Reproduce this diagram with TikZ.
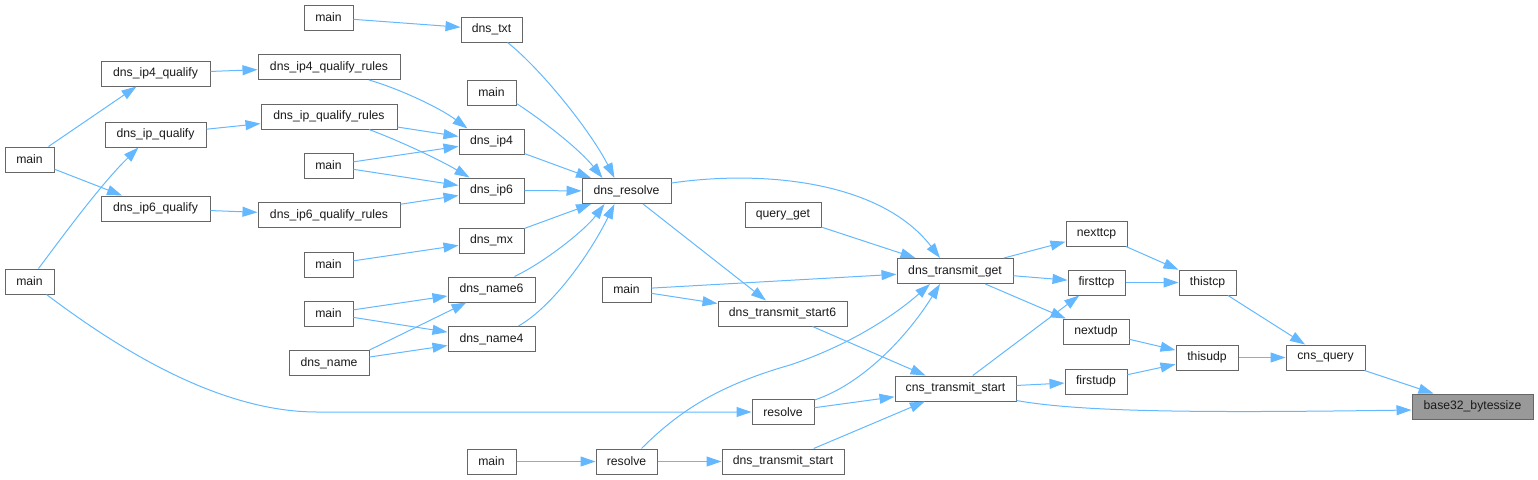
\documentclass[tikz,border=0pt]{standalone}
\usepackage{fontspec}
\setmainfont{Liberation Sans}
\usetikzlibrary{arrows.meta,calc}
\definecolor{edgeblue}{HTML}{63B8FF}
\definecolor{boxborder}{HTML}{666666}
\definecolor{boxgrey}{HTML}{999999}
\definecolor{txtcol}{HTML}{1A1A1A}
\tikzset{
  box/.style={draw=boxborder, fill=white, line width=1pt, minimum height=25pt, inner sep=0pt,
    font=\fontsize{12.2}{14}\selectfont, text=txtcol},
  rootbox/.style={box, fill=boxgrey},
  conn/.style={draw=edgeblue, line width=1pt, -{Triangle[length=15pt,width=10pt]}}
}
\begin{document}
\begin{tikzpicture}[x=1pt,y=-1pt]
\useasboundingbox (0,0) rectangle (1538,479);
% nodes
\node[box, minimum width=49pt] (mA) at (328.5,17.5) {main};
\node[box, minimum width=61pt] (txt) at (491.5,29.5) {dns\_txt};
\node[box, minimum width=109pt] (ip4q) at (155.5,73.5) {dns\_ip4\_qualify};
\node[box, minimum width=142pt] (ip4qr) at (329,67) {dns\_ip4\_qualify\_rules};
\node[box, minimum width=49pt] (mB) at (491.5,92.5) {main};
\node[box, minimum width=101pt] (ipq) at (155.5,134.5) {dns\_ip\_qualify};
\node[box, minimum width=136pt] (ipqr) at (329,116.5) {dns\_ip\_qualify\_rules};
\node[box, minimum width=49pt] (m1) at (29.5,159.5) {main};
\node[box, minimum width=65pt] (ip4) at (491.5,141.5) {dns\_ip4};
\node[box, minimum width=49pt] (mC) at (328.5,165.5) {main};
\node[box, minimum width=65pt] (ip6) at (491.5,190.5) {dns\_ip6};
\node[box, minimum width=109pt] (ip6q) at (155.5,208.5) {dns\_ip6\_qualify};
\node[box, minimum width=142pt] (ip6qr) at (329,215) {dns\_ip6\_qualify\_rules};
\node[box, minimum width=89pt] (dres) at (626.5,191) {dns\_resolve};
\node[box, minimum width=65pt] (mx) at (491.5,240.5) {dns\_mx};
\node[box, minimum width=49pt] (m2) at (29.5,281.5) {main};
\node[box, minimum width=49pt] (mD) at (328.5,264.5) {main};
\node[box, minimum width=87pt] (name6) at (491.5,289.5) {dns\_name6};
\node[box, minimum width=49pt] (mE) at (328.5,313.5) {main};
\node[box, minimum width=87pt] (name4) at (491.5,339) {dns\_name4};
\node[box, minimum width=80pt] (dname) at (329,363) {dns\_name};
\node[box, minimum width=49pt] (mG) at (491.5,461.5) {main};
\node[box, minimum width=76pt] (qget) at (783,214.5) {query\_get};
\node[box, minimum width=116pt] (tget) at (955,271) {dns\_transmit\_get};
\node[box, minimum width=49pt] (mF) at (626.5,289.5) {main};
\node[box, minimum width=129pt] (tstart6) at (782.5,313.5) {dns\_transmit\_start6};
\node[box, minimum width=121pt] (cstart) at (955.5,388.5) {cns\_transmit\_start};
\node[box, minimum width=62pt] (resU) at (783,412) {resolve};
\node[box, minimum width=61pt] (resL) at (626.5,461.5) {resolve};
\node[box, minimum width=122pt] (tstart) at (783,461.5) {dns\_transmit\_start};
\node[box, minimum width=61pt] (nexttcp) at (1096.5,233.5) {nexttcp};
\node[box, minimum width=57pt] (firsttcp) at (1096.5,282.5) {firsttcp};
\node[box, minimum width=57pt] (thistcp) at (1207.5,282.5) {thistcp};
\node[box, minimum width=66pt] (nextudp) at (1096,331.5) {nextudp};
\node[box, minimum width=62pt] (thisudp) at (1207,357.5) {thisudp};
\node[box, minimum width=79pt] (cquery) at (1325.5,357.5) {cns\_query};
\node[box, minimum width=62pt] (firstudp) at (1096,381.5) {firstudp};
\node[rootbox, minimum width=121pt] (base32) at (1472.5,406.5) {base32\_bytessize};
% connectors
\draw[conn] (mA) -- (txt);
\draw[conn] ($(txt.south)+(16,0)$) .. controls (540,68) and (590,130) .. ($(dres.north)+(-12,0)$);
\draw[conn] ($(mB.south east)+(0,-2)$) .. controls (545,122) and (580,150) .. ($(dres.north)+(-24,0)$);
\draw[conn] (ip4) -- (dres);
\draw[conn] (ip6) -- (dres);
\draw[conn] (mx) -- (dres);
\draw[conn] ($(name6.north)+(23,0)$) .. controls (545,262) and (585,230) .. ($(dres.south)+(-22,0)$);
\draw[conn] ($(name4.north east)+(-17,0)$) .. controls (555,305) and (592,250) .. ($(dres.south)+(-12,0)$);
\draw[conn] (m1) -- (ip4q);
\draw[conn] (m1) -- (ip6q);
\draw[conn] ($(m2.north)+(9,0)$) .. controls (60,240) and (100,185) .. ($(ipq.south)+(-17,0)$);
\coordinate (bend) at (317,412);
\draw[conn] ($(m2.south)+(17,0)$) .. controls (120,350) and (220,412) .. (bend) -- (resU.west);
\draw[conn] (ip4q) -- (ip4qr);
\draw[conn] (ipq) -- (ipqr);
\draw[conn] (ip6q) -- (ip6qr);
\draw[conn] ($(ip4qr.south)+(40,0)$) .. controls (400,89) and (440,108) .. ($(ip4.north west)+(9,0)$);
\draw[conn] (ipqr) -- (ip4);
\draw[conn] ($(ipqr.south)+(40,0)$) .. controls (400,141) and (440,160) .. ($(ip6.north west)+(11,0)$);
\draw[conn] (mC) -- (ip4);
\draw[conn] (mC) -- (ip6);
\draw[conn] (ip6qr) -- (ip6);
\draw[conn] (mD) -- (mx);
\draw[conn] (mE) -- (name6);
\draw[conn] (mE) -- (name4);
\draw[conn] (dname.north east) -- ($(name6.south west)+(19,0)$);
\draw[conn] (dname) -- (name4);
\draw[conn] ($(dres.east)+(0,-8)$) .. controls (760,170) and (880,180) .. ($(tget.north)+(-15,0)$);
\draw[conn] (dres) -- (tstart6);
\draw[conn] (qget) -- (tget);
\draw[conn] (mF) -- (tget);
\draw[conn] (mF) -- (tstart6);
\draw[conn] (tstart6) -- (cstart);
\draw[conn] ($(resU.north east)+(0,1)$) .. controls (860,385) and (905,340) .. ($(tget.south)+(-15,0)$);
\draw[conn] (resU) -- (cstart);
\draw[conn] ($(resL.north)+(15,0)$) .. controls (680,410) and (720,385) .. (790,365) .. controls (850,345) and (895,315) .. ($(tget.south)+(-25,0)$);
\draw[conn] (mG) -- (resL);
\draw[conn] (resL) -- (tstart);
\draw[conn] (tstart) -- (cstart);
\draw[conn] (tget) -- (nexttcp);
\draw[conn] (tget) -- (firsttcp);
\draw[conn] (tget) -- (nextudp);
\draw[conn] (cstart) -- (firsttcp);
\draw[conn] (cstart) -- (firstudp);
\draw[conn] ($(cstart.south east)+(0,-1)$) .. controls (1080,412) and (1200,413) .. ($(base32.west)+(0,3.5)$);
\draw[conn] (nexttcp) -- (thistcp);
\draw[conn] (firsttcp) -- (thistcp);
\draw[conn] (nextudp) -- (thisudp);
\draw[conn] (firstudp) -- (thisudp);
\draw[conn] (thistcp) -- (cquery);
\draw[conn] (thisudp) -- (cquery);
\draw[conn] (cquery) -- (base32);
\end{tikzpicture}
\end{document}
